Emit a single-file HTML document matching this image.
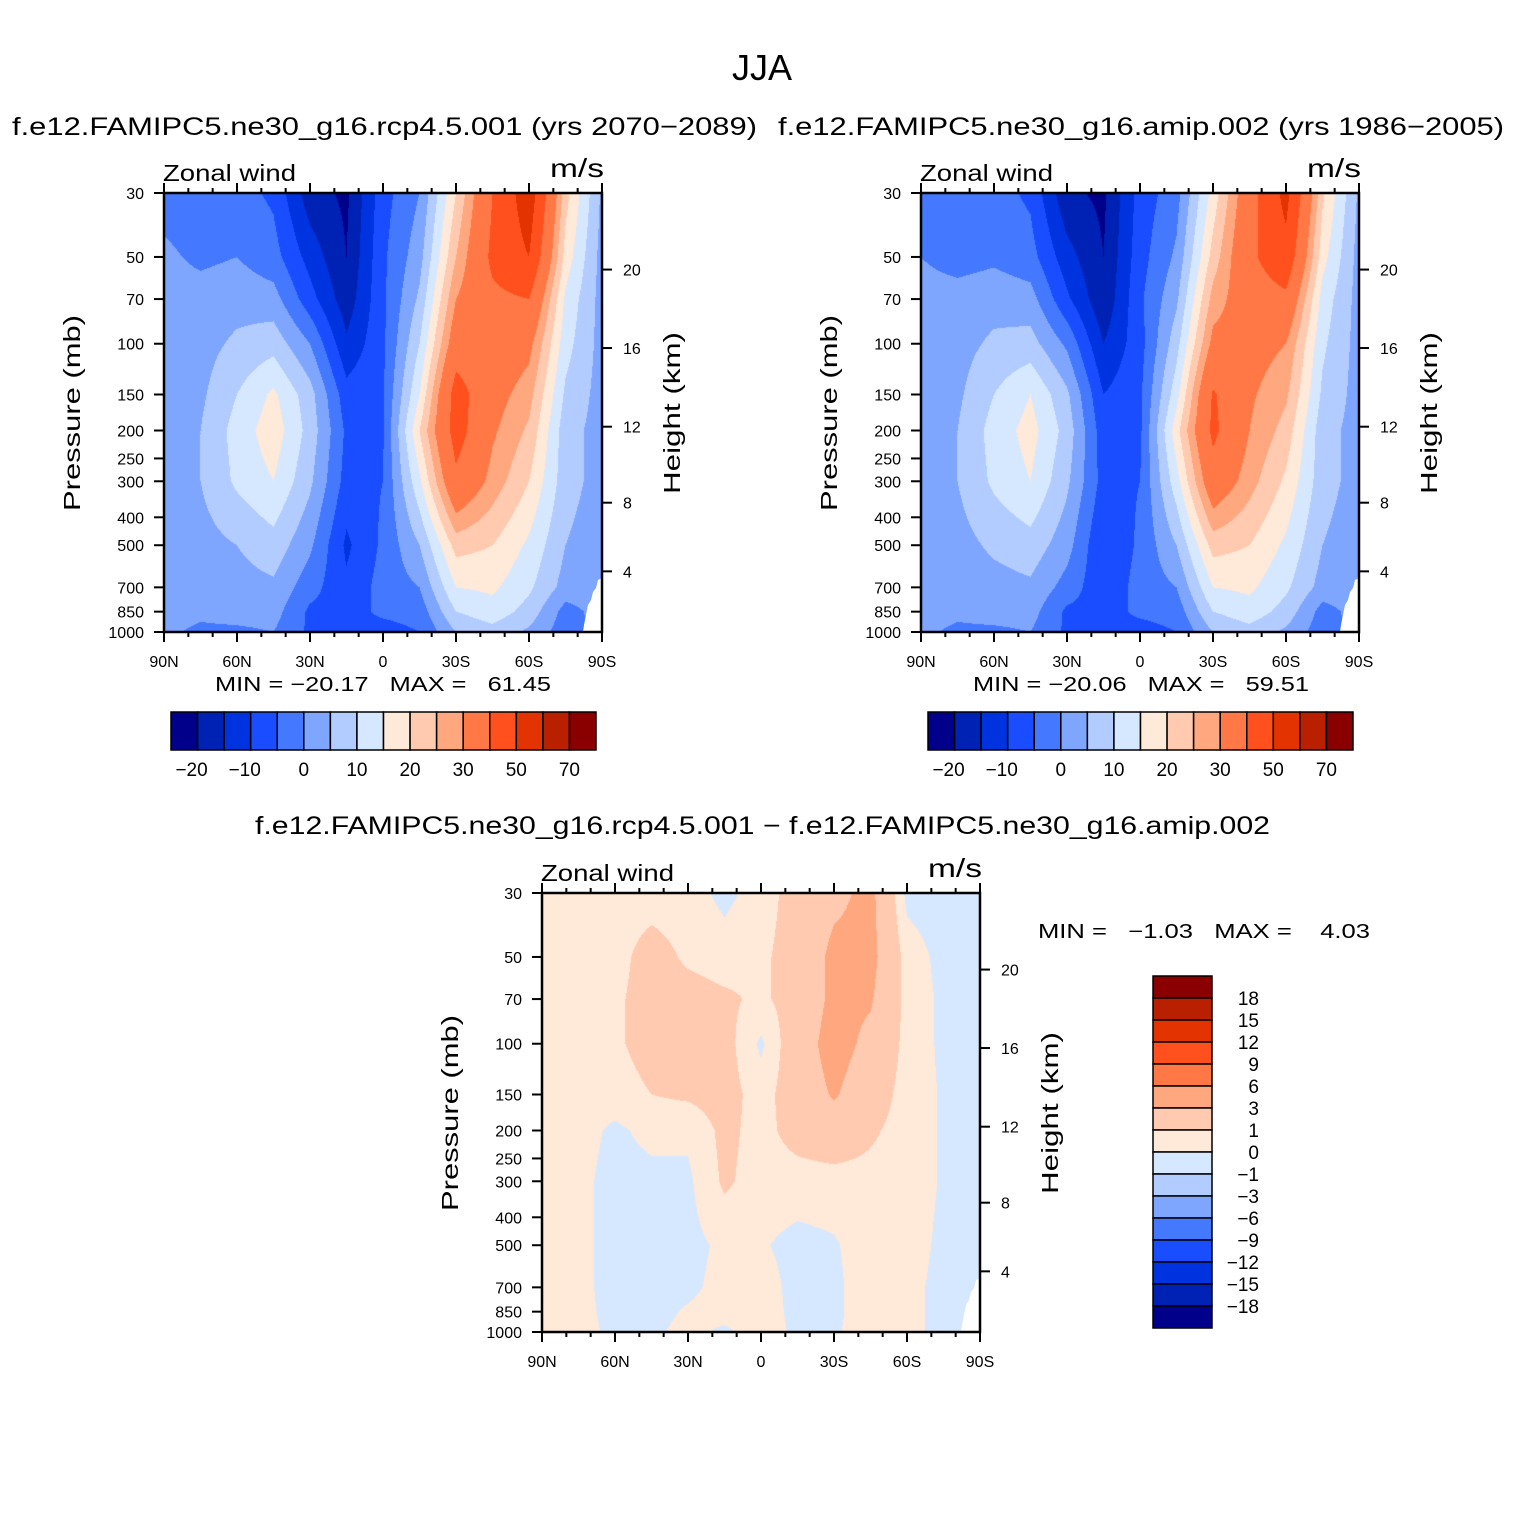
<!DOCTYPE html>
<html><head><meta charset="utf-8">
<style>
html,body{margin:0;padding:0;background:#fff;}
#root{position:relative;width:1524px;height:1524px;overflow:hidden;background:#fff;}
canvas{position:absolute;}
svg{position:absolute;left:0;top:0;}
text{font-family:"Liberation Sans",sans-serif;fill:#000;white-space:pre;}
</style></head>
<body>
<div id="root">
<canvas id="c1" width="438" height="439" style="left:164px;top:193px"></canvas>
<canvas id="c2" width="438" height="439" style="left:921px;top:193px"></canvas>
<canvas id="c3" width="438" height="439" style="left:542px;top:893px"></canvas>
<svg id="ov" width="1524" height="1524"></svg>
</div>
<script>
// ---- data ----
const lats = [90,75,60,45,30,15,0,-15,-30,-45,-60,-75,-90];
const pLevels = [30,50,70,100,150,200,300,500,700,850,1000];
const rcpWind = [
 [-2,1,2,2,2,3,3,2,2,2,1],
 [-3,-1,2,3,4,5,5,3,2,1,-1],
 [-3,0,3,6,10,12,11,5,3,2,-1],
 [-6,-3,2,8,16,18,15,8,4,2,0],
 [-18,-12,-8,0,7,8,6,1,-3,-6,-6],
 [-21,-20,-18,-14,-8,-6,-7,-11,-9,-7,-6],
 [-7,-6,-6,-6,-5.5,-5.5,-5,-4,-3,-4,-7],
 [0,3,6,10,15,20,14,5,0,-3,-5],
 [20,25,30,35,44,44,38,22,15,10,5],
 [40,42,38,36,33,31,28,20,16,13,8],
 [56,50,40,32,27,24,20,14,11,8,4],
 [22,18,14,12,9,7,7,5,3,-2,-3],
 [4,3,3,3,3,3,3,2,2,2,2]
];
const amipWind = [
 [-2,0,2,2,2,3,3,2,2,2,1],
 [-3,-2,2,3,4,5,5,3,2,1,-1],
 [-3,-1,3,6,10,12,11,6,3,2,-1],
 [-6,-3,2,7,15,17,15,8,4,2,0],
 [-19,-13,-9,-1,6,8,6,2,-2,-6,-6],
 [-21,-20,-19,-15,-10,-8,-7,-10,-9,-7,-6],
 [-8,-7,-6,-7,-6,-6,-5,-4,-3,-4,-7],
 [-2,1,4,8,13,18,13,5,0,-3,-5],
 [17,22,27,32,41,42,36,22,15,10,5],
 [36,38,35,33,31,30,27,20,16,13,8],
 [53,47,38,30,26,23,19,14,11,8,4],
 [21,17,13,11,9,7,7,5,3,-2,-3],
 [4,3,3,3,3,3,3,2,2,2,2]
];
const diffWind = [
 [0.5,0.5,0.5,0.5,0.5,0.5,0.5,0.5,0.5,0.4,0.3],
 [0.5,0.5,0.6,0.6,0.5,0.4,0.3,0.3,0.3,0.3,0.3],
 [0.5,0.6,0.8,0.8,0.5,-0.2,-0.4,-0.4,-0.4,-0.3,-0.2],
 [0.5,1.5,1.5,1.5,1.0,0.3,-0.3,-0.3,-0.4,-0.3,-0.2],
 [0.5,0.8,1.5,1.8,1.2,0.2,-0.2,-0.3,-0.2,0.1,0.3],
 [-0.3,0.5,1.2,1.5,1.5,1.3,1.2,0.2,0.3,0.4,-0.2],
 [0.5,0.8,0.8,-0.2,0.5,0.6,0.5,0.1,0.4,0.5,0.5],
 [1.5,1.5,1.5,2,1.8,1.5,0.5,-0.3,-0.3,-0.3,-0.2],
 [2.5,3.5,3.5,3.8,3.2,2,0.5,-0.1,-0.2,-0.2,-0.1],
 [3.5,3.6,3.2,2.5,1.8,1.2,0.6,0.5,0.5,0.5,0.4],
 [-0.3,0.5,0.6,0.6,0.5,0.5,0.5,0.4,0.3,0.3,0.3],
 [-0.5,-0.3,-0.2,-0.2,-0.1,-0.1,-0.1,-0.2,-0.3,-0.3,-0.3],
 [-0.5,-0.5,-0.5,-0.5,-0.5,-0.5,-0.5,-0.5,-0.5,-0.5,-0.5]
];
const windLevels = [-20,-15,-10,-5,0,5,10,15,20,25,30,40,50,60,70];
const windLabels = ["−20","−10","0","10","20","30","50","70"];
const diffLevels = [-18,-15,-12,-9,-6,-3,-1,0,1,3,6,9,12,15,18];
const diffLabels = ["18","15","12","9","6","3","1","0","−1","−3","−6","−9","−12","−15","−18"];
const palette = ["#00008a","#0022b4","#0033e0","#1a4dff","#4478ff","#7fa6ff","#b2ccff","#d6e8ff","#ffe9d9","#ffcab0","#ffa77f","#ff7845","#ff501e","#e23300","#b82000","#8a0000"];
const latTicks = [90,60,30,0,-30,-60,-90];
const latTickLabels = ["90N","60N","30N","0","30S","60S","90S"];
const pTicks = [30,50,70,100,150,200,250,300,400,500,700,850,1000];
const kmTicks = [4,8,12,16,20];
const kmPressure = [616,356,194,103.5,55.3];

// ---- geometry ----
const W=438, H=439, K=H/Math.log(1000/30);
function xScale(ox,lat){return ox+(90-lat)/180*W;}
function yScale(oy,p){return oy+H-Math.log(1000/p)*K;}
function hex(c){return [parseInt(c.substr(1,2),16),parseInt(c.substr(3,2),16),parseInt(c.substr(5,2),16)];}
const rgb=palette.map(hex);
function bin(v,levels){let i=0;while(i<levels.length&&v>=levels[i])i++;return i;}
const lnP=pLevels.map(p=>Math.log(p));
function drawField(id,data,levels){
  const cv=document.getElementById(id),ctx=cv.getContext('2d');
  const img=ctx.createImageData(W,H);
  for(let py=0;py<H;py++){
    const lp=Math.log(1000)-(H-py-0.5)/K;
    let j=0;while(j<lnP.length-2&&lp>lnP[j+1])j++;
    let fy=(lp-lnP[j])/(lnP[j+1]-lnP[j]);fy=Math.max(0,Math.min(1,fy));
    for(let px=0;px<W;px++){
      const lat=90-(px+0.5)/W*180;
      let t=(90-lat)/15;let i=Math.min(11,Math.floor(t));let fx=t-i;
      const v=(data[i][j]*(1-fx)+data[i+1][j]*fx)*(1-fy)+(data[i][j+1]*(1-fx)+data[i+1][j+1]*fx)*fy;
      const c=rgb[bin(v,levels)];
      const o=(py*W+px)*4;img.data[o]=c[0];img.data[o+1]=c[1];img.data[o+2]=c[2];img.data[o+3]=255;
    }
  }
  ctx.putImageData(img,0,0);
}
drawField('c1',rcpWind,windLevels);
drawField('c2',amipWind,windLevels);
drawField('c3',diffWind,diffLevels);

// ---- svg annotations ----
const NS="http://www.w3.org/2000/svg",svg=document.getElementById('ov');
function el(tag,attrs,txt,parent){const e=document.createElementNS(NS,tag);for(const k in attrs)e.setAttribute(k,attrs[k]);if(txt!==undefined)e.textContent=txt;(parent||svg).appendChild(e);return e;}

function axes(ox,oy,prefix){
  const g=el('g',{});
  
  
  const mx=xScale(ox,-90),by=oy+H;
  const wp=el('polygon',{points:`${mx},${by-54} ${mx-4},${by-52} ${mx-6},${by-44} ${mx-9},${by-40} ${mx-11},${by-32} ${mx-14},${by-27} ${mx-16},${by-17} ${mx-18},${by-7} ${mx-19},${by} ${mx},${by}`,fill:'#fff'},undefined,g);
  
  
  el('rect',{x:ox,y:oy,width:W,height:H,fill:'none',stroke:'#000','stroke-width':2.5},undefined,g);
  for(let lat=90;lat>=-90;lat-=10){
    const x=xScale(ox,lat),maj=lat%30===0,len=maj?10:5;
    el('line',{x1:x,y1:oy,x2:x,y2:oy-len,stroke:'#000','stroke-width':2},undefined,g);
    el('line',{x1:x,y1:oy+H,x2:x,y2:oy+H+len,stroke:'#000','stroke-width':2},undefined,g);
  }
  latTicks.forEach((lat,i)=>{
    const t=el('text',{x:xScale(ox,lat),y:oy+H+35,'font-size':16,'text-anchor':'middle'},latTickLabels[i],g);
    
    
  });
  pTicks.forEach(p=>{
    const y=yScale(oy,p);
    el('line',{x1:ox,y1:y,x2:ox-10,y2:y,stroke:'#000','stroke-width':2},undefined,g);
    const t=el('text',{x:ox-20,y:y+6,'font-size':16,'text-anchor':'end'},String(p),g);
    
    
  });
  kmTicks.forEach((km,i)=>{
    const y=yScale(oy,kmPressure[i]);
    el('line',{x1:ox+W,y1:y,x2:ox+W+10,y2:y,stroke:'#000','stroke-width':2},undefined,g);
    const t=el('text',{x:ox+W+21,y:y+6,'font-size':16},String(km),g);
    
    
  });
  const zl=el('text',{x:ox-1,y:oy-12,'font-size':23,textLength:133,lengthAdjust:'spacingAndGlyphs'},'Zonal wind',g);
  
  
  const un=el('text',{x:ox+W+2,y:oy-16,'font-size':26,'text-anchor':'end',textLength:54,lengthAdjust:'spacingAndGlyphs'},'m/s',g);
  
  
  const yt=el('text',{x:0,y:0,'font-size':23,'text-anchor':'middle',transform:`translate(${ox-84},${oy+220}) rotate(-90)`,textLength:196,lengthAdjust:'spacingAndGlyphs'},'Pressure (mb)',g);
  
  
  const ht=el('text',{x:0,y:0,'font-size':23,'text-anchor':'middle',transform:`translate(${ox+W+78},${oy+220}) rotate(-90)`,textLength:162,lengthAdjust:'spacingAndGlyphs'},'Height (km)',g);
  
  
}
axes(164,193,'rcp');
axes(921,193,'amip');
axes(542,893,'diff');

function hbar(x0,y0,prefix){
  const g=el('g',{});
  
  
  const bw=425/16;
  palette.forEach((c,i)=>{
    const r=el('rect',{x:x0+i*bw,y:y0,width:bw,height:38,fill:c,stroke:'#000','stroke-width':1.5},undefined,g);
    
    
  });
  windLabels.forEach((s,k)=>{
    const bi=k===0?1:2*k+1;
    const t=el('text',{x:x0+bi*bw+(k<2?-6:0),y:y0+64,'font-size':19,'text-anchor':'middle'},s,g);
    
    
  });
}
hbar(171,712,'rcp');
hbar(928,712,'amip');

(function(){
  const g=el('g',{});
  
  
  const bh=352/16;
  palette.slice().reverse().forEach((c,i)=>{
    const r=el('rect',{x:1153,y:976+i*bh,width:59,height:bh,fill:c,stroke:'#000','stroke-width':1.5},undefined,g);
    
    
  });
  diffLabels.forEach((s,i)=>{
    const t=el('text',{x:1259,y:976+(i+1)*bh+7,'font-size':19,'text-anchor':'end'},s,g);
    
    
  });
})();

function txt(name,x,y,size,s,len,anchor){
  const a={x:x,y:y,'font-size':size};
  if(len){a.textLength=len;a.lengthAdjust='spacingAndGlyphs';}
  if(anchor)a['text-anchor']=anchor;
  const t=el('text',a,s);
  t.setAttribute('xml:space','preserve');
  
  
}
txt('figure-title',762,80,36,'JJA',null,'middle');
txt('rcp-panel-title',12,135,25,'f.e12.FAMIPC5.ne30_g16.rcp4.5.001 (yrs 2070−2089)',745);
txt('amip-panel-title',778,135,25,'f.e12.FAMIPC5.ne30_g16.amip.002 (yrs 1986−2005)',726);
txt('diff-panel-title',255,834,25,'f.e12.FAMIPC5.ne30_g16.rcp4.5.001 − f.e12.FAMIPC5.ne30_g16.amip.002',1015);
txt('rcp-min-max',215,691,20,'MIN = −20.17   MAX =   61.45',336);
txt('amip-min-max',973,691,20,'MIN = −20.06   MAX =   59.51',336);
txt('diff-min-max',1038,938,20,'MIN =   −1.03   MAX =    4.03',332);
</script>
</body></html>
